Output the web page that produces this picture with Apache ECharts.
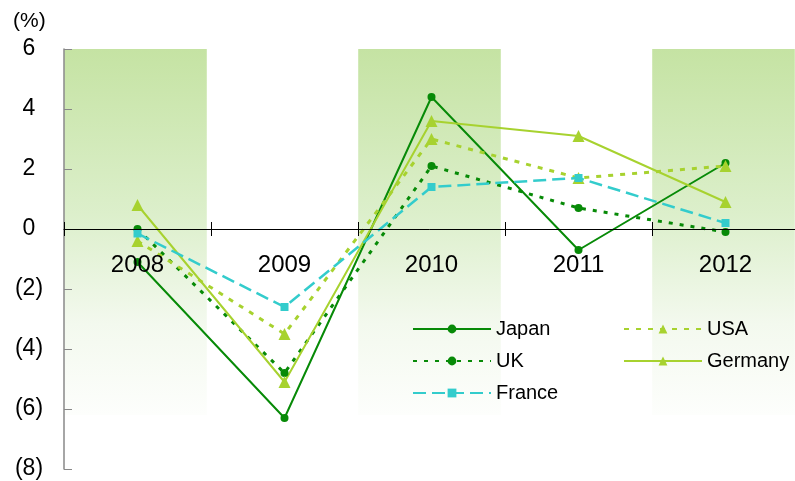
<!DOCTYPE html>
<html>
<head>
<meta charset="utf-8">
<script src="https://cdn.jsdelivr.net/npm/echarts@6/dist/echarts.min.js"></script>
<style>
  html, body { margin: 0; padding: 0; background: #fff; }
  #chart { width: 795px; height: 481px; }
</style>
</head>
<body>
<div id="chart"></div>
<script>
// Real GDP growth rate, year on year (%)
const years = ['2008', '2009', '2010', '2011', '2012'];
const japan   = [-1.1, -6.3, 4.4, -0.7, 2.2];
const usa     = [-0.4, -3.5, 3.0, 1.7, 2.1];
const uk      = [0.0, -4.8, 2.1, 0.7, -0.1];
const germany = [0.8, -5.1, 3.6, 3.1, 0.9];
const france  = [-0.15, -2.6, 1.4, 1.7, 0.2];

// Shaded year columns (category indices) and their vertical extent
const bandYears = [[0], [2], [4]];
const bandTop = 6;
const bandBottom = -6.2;

const Y_MIN = -8, Y_MAX = 6, Y_STEP = 2;
const GRID = { left: 64, top: 49, width: 735, height: 420 };
// distance from the bottom of the grid up to the zero line
const zeroLift = GRID.height * (0 - Y_MIN) / (Y_MAX - Y_MIN);

const FONT = '"Liberation Sans", Arial, sans-serif';
const DARK = '#078a07';
const LIGHT = '#a7d22f';
const CYAN = '#33cccc';

const chart = echarts.init(document.getElementById('chart'));

const bandFill = new echarts.graphic.LinearGradient(0, 0, 0, 1, [
  { offset: 0, color: '#c5e3a3' },
  { offset: 0.45, color: '#dcefcb' },
  { offset: 0.75, color: '#f3f9ee' },
  { offset: 1, color: '#fdfefc' }
]);

function lineSeries(name, data, color, lineType, width, symbol, size) {
  return {
    name: name,
    type: 'line',
    data: data,
    z: 3,
    symbol: symbol,
    symbolSize: size,
    itemStyle: { color: color },
    lineStyle: { color: color, width: width, type: lineType },
    emphasis: { disabled: true },
    animation: false
  };
}

const legendText = { fontFamily: FONT, fontSize: 20, color: '#000' };

chart.setOption({
  animation: false,
  textStyle: { fontFamily: FONT },
  title: {
    text: '(%)', left: 8, top: 6,
    textStyle: { fontFamily: FONT, fontSize: 21, fontWeight: 'normal', color: '#000' }
  },
  grid: Object.assign({ outerBoundsMode: 'none', containLabel: false }, GRID),
  legend: [
    {
      data: ['Japan', 'UK', 'France'],
      orient: 'vertical', left: 412, top: 319, padding: 0,
      itemWidth: 78, itemHeight: 11, itemGap: 12,
      textStyle: legendText
    },
    {
      data: ['USA', 'Germany'],
      orient: 'vertical', left: 623, top: 319, padding: 0,
      itemWidth: 78, itemHeight: 11, itemGap: 12,
      textStyle: legendText
    }
  ],
  xAxis: [
    {
      type: 'category', data: years, boundaryGap: true, position: 'bottom',
      offset: -zeroLift, z: 5,
      axisLine: { show: true, onZero: false, lineStyle: { color: '#000', width: 1 } },
      axisTick: { show: true, inside: false, length: 7, lineStyle: { color: '#000' } },
      axisLabel: { show: true, interval: 0, margin: 24, fontSize: 24, color: '#000', fontFamily: FONT }
    },
    {
      type: 'category', data: years, boundaryGap: true, position: 'bottom',
      offset: -zeroLift,
      axisLine: { show: false, onZero: false },
      axisTick: { show: true, inside: true, length: 7, lineStyle: { color: '#000' } },
      axisLabel: { show: false }
    }
  ],
  yAxis: {
    type: 'value', min: Y_MIN, max: Y_MAX, interval: Y_STEP,
    splitLine: { show: false },
    axisLine: { show: true, lineStyle: { color: '#888', width: 1.5 } },
    axisTick: { show: true, inside: true, length: 8, lineStyle: { color: '#888' } },
    axisLabel: {
      align: 'center', margin: 35, fontSize: 23, color: '#000', fontFamily: FONT,
      formatter: v => (v < 0 ? '(' + (-v) + ')' : String(v))
    }
  },
  series: [
    {
      type: 'custom',
      z: 0,
      silent: true,
      data: bandYears,
      renderItem: function (params, api) {
        const idx = api.value(0);
        const top = api.coord([idx, bandTop]);
        const bot = api.coord([idx, bandBottom]);
        const w = api.size([1, 0])[0] * 0.97;
        return {
          type: 'rect',
          shape: { x: top[0] - w / 2 - 2, y: top[1], width: w, height: bot[1] - top[1] },
          style: { fill: bandFill }
        };
      }
    },
    lineSeries('Japan', japan, DARK, 'solid', 2, 'circle', 8),
    lineSeries('UK', uk, DARK, [4, 7], 3, 'circle', 8),
    lineSeries('Germany', germany, LIGHT, 'solid', 2, 'triangle', 12),
    lineSeries('USA', usa, LIGHT, [5, 7], 3, 'triangle', 12),
    lineSeries('France', france, CYAN, [13, 6], 2.5, 'rect', 8)
  ]
});
</script>
</body>
</html>
